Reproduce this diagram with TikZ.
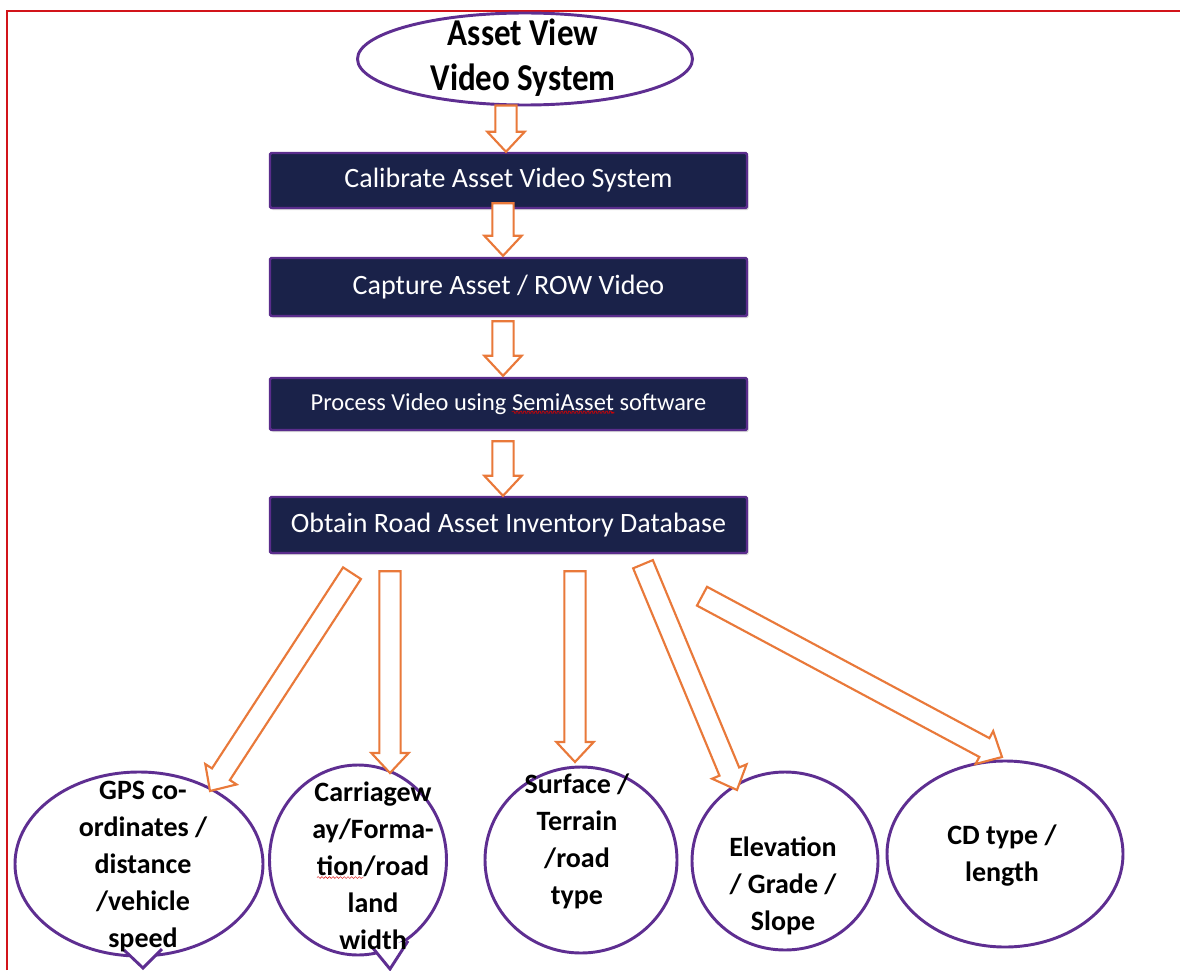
\documentclass[tikz,border=0pt]{standalone}
\usepackage{fontspec}
\usepackage{graphicx}
\setmainfont{Carlito}
\usetikzlibrary{calc,shapes.geometric,shadows,decorations.pathmorphing}
\definecolor{navy}{HTML}{1A2249}
\definecolor{boxpurple}{HTML}{5A2D8C}
\definecolor{ellpurple}{HTML}{5E2E91}
\definecolor{arrorange}{HTML}{E9793A}
\definecolor{borderred}{HTML}{D2141A}
\newcommand\wavy[1]{\tikz[baseline=(w.base)]{\node[shape=rectangle,minimum width=0pt,minimum height=0pt,inner sep=0pt,outer sep=0pt,draw=none,fill=none,rounded corners=0pt](w){#1};\draw[red!85!black,line width=0.3pt,decorate,decoration={snake,amplitude=0.7pt,segment length=2.8pt}] ([yshift=-1.2pt]w.south west)--([yshift=-1.2pt]w.south east);}}
\newcommand\blockarr[2]{%
  \coordinate (baB) at ($(#2)!15pt!(#1)$);
  \draw[barrow] ($(#1)!8pt!-90:(#2)$) -- ($(baB)!8pt!90:(#1)$) -- ($(baB)!14pt!90:(#1)$) -- (#2) -- ($(baB)!14pt!-90:(#1)$) -- ($(baB)!8pt!-90:(#1)$) -- ($(#1)!8pt!90:(#2)$) -- cycle;}
\newcommand\tall[1]{\scalebox{1}[1.15]{#1}}
\begin{document}
\begin{tikzpicture}[x=0.75pt,y=-0.75pt,
  ellbox/.style={ellipse, draw=ellpurple, line width=2.2pt, fill=white, inner sep=0pt},
  stepbox/.style={rectangle, draw=boxpurple, line width=1.8pt, fill=navy, text=white, minimum width=357.75pt, inner sep=0pt, rounded corners=1pt, drop shadow={opacity=0.3,shadow xshift=1.2pt,shadow yshift=-1.5pt}},
  steptext/.style={font=\fontsize{21}{25}\selectfont},
  circtext/.style={font=\bfseries\fontsize{21}{27.75}\selectfont, align=center, inner sep=0pt},
  titletext/.style={font=\bfseries\fontsize{24.75}{33.75}\selectfont, align=center, inner sep=0pt},
  pointer/.style={draw=ellpurple, line width=2.2pt, fill=white, line join=miter},
  barrow/.style={draw=arrorange, line width=1.6pt, fill=white, line join=miter},
]
\useasboundingbox[fill=white] (0,0) rectangle (1180,970);
\draw[borderred, line width=2pt] (7,970) -- (7,11) -- (1180,11);

% title
\node[ellbox, minimum width=251.25pt, minimum height=69pt] (title) at (525,59) {};
\node[titletext] (titletxt) at (523,58) {\tall{Asset View}\\\tall{Video System}};

% process boxes
\node[stepbox, minimum height=41.25pt, steptext] (box1) at (508.5,180.5) {Calibrate Asset Video System};
\node[stepbox, minimum height=43.5pt, steptext] (box2) at (508.5,287) {Capture Asset / ROW Video};
\node[stepbox, minimum height=39pt, font=\fontsize{18.3}{22}\selectfont] (box3) at (508.5,404) {Process Video using \wavy{SemiAsset} software};
\node[stepbox, minimum height=42pt, steptext] (box4) at (508.5,525) {Obtain Road Asset Inventory Database};

% result ellipses
\node[ellbox, minimum width=186pt, minimum height=138pt] (gps) at (139,864) {};
\draw[pointer] (124,950) -- (143,968) -- (162,949);
\node[ellbox, minimum width=132.75pt, minimum height=142.5pt] (carr) at (358,860) {};
\draw[pointer] (372,947) -- (390,969) -- (408,941);
\node[ellbox, minimum width=144pt, minimum height=139.5pt] (surf) at (581,860) {};
\node[ellbox, minimum width=139.5pt, minimum height=133.5pt] (elev) at (785,861) {};
\node[ellbox, minimum width=177pt, minimum height=139.5pt] (cd) at (1005,854) {};

\node[circtext] (gpstxt) at (143,867) {GPS co-\\ordinates /\\distance\\/vehicle\\speed};
\node[circtext] (carrtxt) at (373,866) {Carriagew\\ay/Forma-\\\wavy{tion}/road\\land\\width};
\node[circtext] (surftxt) at (577,841) {Surface /\\Terrain\\/road\\type};
\node[circtext] (elevtxt) at (783,886) {Elevation\\/ Grade /\\Slope};
\node[circtext] (cdtxt) at (1002,856) {CD type /\\length};

% connector end points
\coordinate (a0s) at ($(title.south)+(-19,-1)$);
\coordinate (a0e) at ($(box1.north)+(-2.5,0)$);
\coordinate (a1s) at ($(box1.south)+(-5.5,-6)$);
\coordinate (a1e) at ($(box2.north)+(-5.5,-1)$);
\coordinate (a2s) at ($(box2.south)+(-5.5,4)$);
\coordinate (a2e) at ($(box3.north)+(-5.5,-1)$);
\coordinate (a3s) at ($(box3.south)+(-5.5,10)$);
\coordinate (a3e) at ($(box4.north)+(-5.5,0)$);
\coordinate (bAs) at ($(box4.south)+(-156.5,19)$);
\coordinate (bAe) at ($(gps.center)+(71,-73)$);
\coordinate (bBs) at ($(box4.south)+(-118.5,17)$);
\coordinate (bBe) at ($(carr.center)+(32,-87)$);
\coordinate (bCs) at ($(box4.south)+(66.5,17)$);
\coordinate (bCe) at ($(surf.center)+(-6,-98)$);
\coordinate (bDs) at ($(box4.south)+(134.5,10)$);
\coordinate (bDe) at ($(elev.center)+(-48,-71)$);
\coordinate (bEs) at ($(box4.south)+(193.5,42)$);
\coordinate (bEe) at ($(cd.center)+(-3,-97)$);

\blockarr{a0s}{a0e}
\blockarr{a1s}{a1e}
\blockarr{a2s}{a2e}
\blockarr{a3s}{a3e}
\blockarr{bAs}{bAe}
\blockarr{bBs}{bBe}
\blockarr{bCs}{bCe}
\blockarr{bDs}{bDe}
\blockarr{bEs}{bEe}
\end{tikzpicture}
\end{document}
